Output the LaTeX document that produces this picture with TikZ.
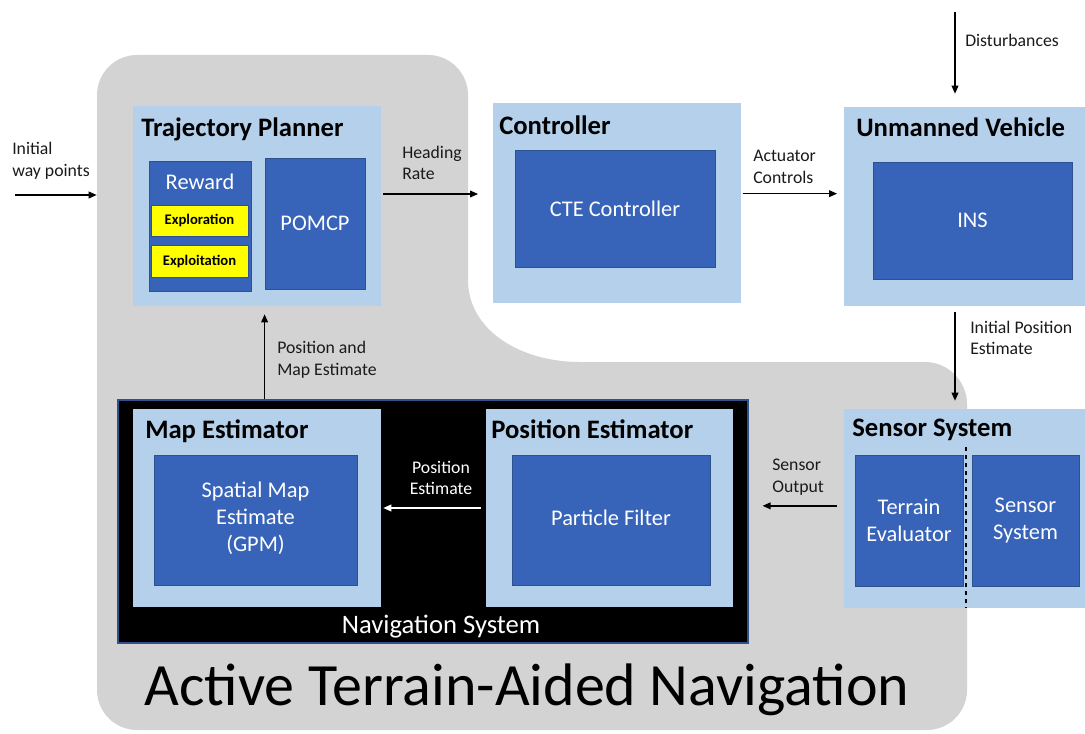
\documentclass[tikz,border=0pt]{standalone}
\usepackage{fontspec}
\setmainfont{Carlito}
\usetikzlibrary{arrows.meta,fit}

\definecolor{Backdrop}{HTML}{D3D3D3}
\definecolor{Block}{HTML}{B4D0EA}
\definecolor{Inner}{HTML}{3763B8}
\definecolor{InnerEdge}{HTML}{2F528F}
\definecolor{Reward}{HTML}{FFFF00}
\definecolor{Ink}{HTML}{1A1A1A}

\tikzset{
  lbox/.style={fill=Block, inner sep=0pt},
  dbox/.style={fill=Inner, draw=InnerEdge, line width=0.6pt, inner sep=0pt},
  dtext/.style={inner sep=0pt, text=white, align=center, font=\fontsize{16.8}{19.8}\selectfont},
  ybox/.style={fill=Reward, draw=InnerEdge, line width=0.5pt, inner sep=0pt},
  ytext/.style={inner sep=0pt, font=\fontsize{11}{13}\selectfont\bfseries},
  btitle/.style={anchor=base west, inner sep=0pt, font=\fontsize{20}{22}\selectfont\bfseries},
  lab/.style={anchor=west, inner sep=0pt, align=left, text=Ink, font=\fontsize{13.3}{16.3}\selectfont},
  flow/.style={line width=1.1pt, -{Triangle[length=6pt,width=5pt]}}
}

\begin{document}
\begin{tikzpicture}[x=0.75pt, y=-0.75pt]

  \useasboundingbox (0,0) rectangle (1085,734);

  %%%%%%%%%% Grey backdrop %%%%%%%%%%
  \fill [Backdrop] (137,55) -- (428,55) .. controls (450,55) and (468,73) .. (468,95)
    -- (468,280) .. controls (468,330) and (520,362) .. (580,362)
    -- (925,362) .. controls (948,362) and (967,381) .. (967,404)
    -- (967,690) .. controls (967,712) and (949,730) .. (927,730)
    -- (137,730) .. controls (115,730) and (97,712) .. (97,690)
    -- (97,95) .. controls (97,73) and (115,55) .. (137,55) -- cycle;

  %%%%%%%%%% Upper row %%%%%%%%%%
  \node [lbox, fit={(133,106) (381,306)}] (traj) {};
  \node [btitle] (trajT) at (141,137) {Trajectory Planner};
  \node [dbox, fit={(149,161) (251,291)}] (reward) {};
  \node [dtext, anchor=base] (rewardT) at (200,190) {Reward};
  \node [ybox, fit={(151,205) (248,236)}] (explor) {};
  \node [ytext] at (explor.center) {Exploration};
  \node [ybox, fit={(151,245) (248,277)}] (exploit) {};
  \node [ytext] at (exploit.center) {Exploitation};
  \node [dbox, fit={(265,158) (365,289)}] (pomcp) {};
  \node [dtext] at (pomcp.center) {POMCP};

  \node [lbox, fit={(493,103) (741,303)}] (ctrl) {};
  \node [btitle] (ctrlT) at (499,135) {Controller};
  \node [dbox, fit={(515,150) (715,267)}] (cte) {};
  \node [dtext] at (cte.center) {CTE Controller};

  \node [lbox, fit={(844,107) (1092,306)}] (uv) {};
  \node [btitle] (uvT) at (856,137) {Unmanned Vehicle};
  \node [dbox, fit={(873,162) (1072,279)}] (ins) {};
  \node [dtext] at (ins.center) {INS};

  %%%%%%%%%% Navigation system %%%%%%%%%%
  \node [fill=black, draw=InnerEdge, line width=0.8pt, inner sep=0pt, fit={(118,400) (748,643)}] (nav) {};
  \node [anchor=base, inner sep=0pt, text=white, font=\fontsize{20}{22}\selectfont] (navT) at (441,633) {Navigation System};

  \node [lbox, fit={(133,409) (381,607)}] (mapest) {};
  \node [btitle] (mapT) at (145,438) {Map Estimator};
  \node [dbox, fit={(154,455) (357,585)}] (gpm) {};
  \node [dtext, font=\fontsize{16.8}{20.3}\selectfont] at ([yshift=1.5pt]gpm.center) {Spatial Map\\Estimate\\(GPM)};

  \node [lbox, fit={(486,409) (733,607)}] (posest) {};
  \node [btitle] (posT) at (491,438) {Position Estimator};
  \node [dbox, fit={(512,455) (710,585)}] (pf) {};
  \node [dtext] at ([yshift=1.5pt]pf.center) {Particle Filter};

  %%%%%%%%%% Sensor system %%%%%%%%%%
  \node [lbox, fit={(844,409) (1092,608)}] (sens) {};
  \node [btitle] (sensT) at (852,436) {Sensor System};
  \node [dbox, fit={(855,455) (963,586)}] (terrain) {};
  \node [dtext] at (terrain.center) {Terrain\\Evaluator};
  \node [dbox, fit={(972,455) (1079,586)}] (sensor) {};
  \node [dtext] at (sensor.center) {Sensor\\System};
  \draw [dashed, line width=1.1pt] (966,447) -- (966,608);

  %%%%%%%%%% Title %%%%%%%%%%
  \node [anchor=base, inner sep=0pt, font=\fontsize{45}{50}\selectfont] (atan) at (527,705) {Active Terrain-Aided Navigation};

  %%%%%%%%%% Signals %%%%%%%%%%
  \coordinate (wayin) at (15,195);
  \coordinate (dist) at (955,12);

  \draw [flow, shorten >=27pt] (wayin) -- (wayin -| traj.west);
  \draw [flow, shorten <=1.5pt, shorten >=11pt] ([yshift=9pt]traj.east) -- ([yshift=9pt]traj.east -| ctrl.west);
  \draw [flow, shorten <=1pt, shorten >=5pt] ([yshift=7pt]ctrl.east) -- ([yshift=7pt]ctrl.east -| uv.west);
  \draw [flow, shorten >=9.75pt] (dist) -- (dist |- uv.north);
  \draw [flow, shorten <=4.5pt, shorten >=6pt] (dist |- uv.south) -- (dist |- sens.north);
  \draw [flow, shorten <=5pt, shorten >=10.5pt] ([yshift=2pt]sens.west) -- ([yshift=2pt]sens.west -| nav.east);
  \draw [flow, white, shorten <=3.75pt, shorten >=1.5pt] (posest.west) -- (mapest.east);
  \draw [flow, shorten >=6pt] (nav.north -| pomcp.west) -- (pomcp.west |- traj.south);

  %%%%%%%%%% Signal labels %%%%%%%%%%
  \node [lab] (wayL) at (12,161) {Initial\\way points};
  \node [lab] (hdgL) at (402,163) {Heading\\Rate};
  \node [lab] (actL) at (753,167) {Actuator\\Controls};
  \node [lab] (distL) at (965,40) {Disturbances};
  \node [lab] (iniL) at (970,338) {Initial Position\\Estimate};
  \node [lab] (sensL) at (772,477) {Sensor\\Output};
  \node [lab, align=center, anchor=center, text=white] (posL) at (441,478) {Position\\Estimate};
  \node [lab] (pmL) at (277,360) {Position and\\Map Estimate};

\end{tikzpicture}
\end{document}
